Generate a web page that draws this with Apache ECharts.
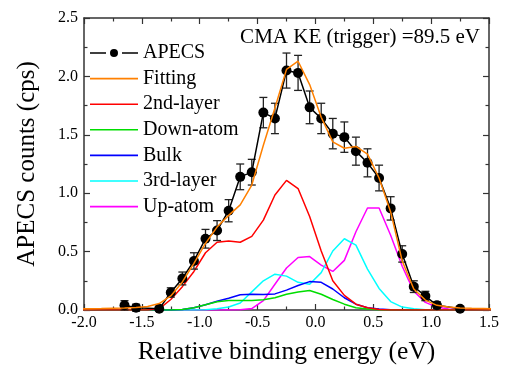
<!DOCTYPE html>
<html>
<head>
<meta charset="utf-8">
<script src="https://cdn.jsdelivr.net/npm/echarts@6/dist/echarts.min.js"></script>
<style>
  html, body { margin: 0; padding: 0; background: #fff; }
  #chart { width: 507px; height: 370px; }
</style>
</head>
<body>
<div id="chart"></div>
<script>
// measured points (relative binding energy, eV)
const E_DATA = [-1.65, -1.55, -1.35, -1.25, -1.15, -1.05, -0.95, -0.85, -0.75, -0.65, -0.55, -0.45, -0.35, -0.25,
  -0.15, -0.05, 0.05, 0.15, 0.25, 0.35, 0.45, 0.55, 0.65, 0.75, 0.85, 0.95, 1.05, 1.25];
const APECS = [0.04, 0.02, 0.01, 0.15, 0.27, 0.42, 0.61, 0.68, 0.85, 1.14, 1.18, 1.69, 1.64, 2.05,
  2.03, 1.735, 1.64, 1.51, 1.48, 1.36, 1.26, 1.13, 0.87, 0.48, 0.20, 0.12, 0.04, 0.01];
const APECS_ERR = [0.04, 0.03, 0.02, 0.04, 0.055, 0.07, 0.08, 0.085, 0.095, 0.11, 0.11, 0.13, 0.13, 0.15,
  0.15, 0.14, 0.13, 0.13, 0.13, 0.12, 0.12, 0.11, 0.10, 0.07, 0.05, 0.04, 0.03, 0.02];

// fit grid + components
const E_FIT = [-2.05, -1.95, -1.85, -1.75, -1.65, -1.55, -1.45, -1.35, -1.25, -1.15, -1.05, -0.95, -0.85,
  -0.75, -0.65, -0.55, -0.45, -0.35, -0.25, -0.15, -0.05, 0.05, 0.15, 0.25, 0.35, 0.45, 0.55, 0.65,
  0.75, 0.85, 0.95, 1.05, 1.15, 1.25, 1.35, 1.45, 1.55];
const FITTING = [0.01, 0.01, 0.012, 0.015, 0.018, 0.022, 0.03, 0.055, 0.12, 0.24, 0.40, 0.57, 0.71,
  0.81, 0.90, 1.07, 1.41, 1.73, 2.06, 2.13, 1.93, 1.65, 1.44, 1.385, 1.40, 1.335, 1.13, 0.84,
  0.42, 0.18, 0.085, 0.04, 0.025, 0.018, 0.014, 0.012, 0.01];
const LAYER2 = [0, 0, 0, 0, 0, 0, 0, 0.01, 0.09, 0.20, 0.33, 0.49, 0.58,
  0.59, 0.58, 0.63, 0.77, 0.985, 1.11, 1.04, 0.80, 0.505, 0.25, 0.125, 0.05, 0.02, 0.005, 0,
  0, 0, 0, 0, 0, 0, 0, 0, 0];
const DOWN_ATOM = [0, 0, 0, 0, 0, 0, 0, 0, 0, 0.005, 0.02, 0.045, 0.07,
  0.082, 0.082, 0.082, 0.087, 0.105, 0.135, 0.155, 0.167, 0.135, 0.09, 0.05, 0.02, 0.008, 0.003, 0,
  0, 0, 0, 0, 0, 0, 0, 0, 0];
const BULK = [0, 0, 0, 0, 0, 0, 0, 0, 0, 0.005, 0.02, 0.045, 0.075,
  0.10, 0.13, 0.135, 0.133, 0.138, 0.17, 0.21, 0.243, 0.237, 0.18, 0.105, 0.05, 0.02, 0.008, 0.003,
  0, 0, 0, 0, 0, 0, 0, 0, 0];
const LAYER3 = [0, 0, 0, 0, 0, 0, 0, 0, 0, 0, 0, 0.003, 0.01,
  0.025, 0.06, 0.155, 0.25, 0.307, 0.29, 0.237, 0.22, 0.32, 0.505, 0.61, 0.555, 0.35, 0.185, 0.072,
  0.025, 0.01, 0.003, 0, 0, 0, 0, 0, 0];
const UP_ATOM = [0, 0, 0, 0, 0, 0, 0, 0, 0, 0, 0, 0, 0,
  0, 0.003, 0.012, 0.08, 0.22, 0.36, 0.45, 0.457, 0.385, 0.33, 0.425, 0.67, 0.873, 0.873, 0.64,
  0.375, 0.16, 0.065, 0.025, 0.008, 0.003, 0, 0, 0];

const X_TICKS = { min: -2.0, max: 1.5, step: 0.5 };
const Y_TICKS = { min: 0.0, max: 2.5, step: 0.5 };

const FONT = '"Liberation Serif", "Times New Roman", serif';

// legend glyphs: plain line, and dash-dot-dash for the data points
const LINE_ICON = 'path://M0,0h48v1.6h-48z';
const DOT_ICON = 'path://M0,4.2h16v1.6h-16z M32,4.2h16v1.6h-16z M28,5a4,4 0 1,1 -8,0a4,4 0 1,1 8,0z';

const chart = echarts.init(document.getElementById('chart'));

const pair = (xs, ys) => xs.map((x, i) => [x, ys[i]]);

const fitLine = (name, color, values, z) => ({
  name,
  type: 'line',
  data: pair(E_FIT, values),
  symbol: 'none',
  lineStyle: { color, width: 1.5 },
  itemStyle: { color },
  clip: true,
  z,
  animation: false,
});

const axisCommon = {
  axisLine: { show: true, onZero: false, lineStyle: { color: '#333', width: 1.5 } },
  axisTick: { show: true, inside: true, length: 6, lineStyle: { color: '#333', width: 1.2 } },
  minorTick: { show: true, splitNumber: 2, length: 3.5, lineStyle: { color: '#333', width: 1.2 } },
  splitLine: { show: false },
};

chart.setOption({
  backgroundColor: '#fff',
  animation: false,
  textStyle: { fontFamily: FONT, color: '#000' },
  grid: { left: 84, right: 18, top: 18, bottom: 57 },
  legend: {
    left: 90,
    top: 43,
    padding: 0,
    orient: 'vertical',
    itemWidth: 48,
    itemHeight: 14,
    itemGap: 5.6,
    symbolKeepAspect: true,
    textStyle: { fontFamily: FONT, fontSize: 20, color: '#000' },
    data: [
      { name: 'APECS', icon: DOT_ICON },
      { name: 'Fitting', icon: LINE_ICON },
      { name: '2nd-layer', icon: LINE_ICON },
      { name: 'Down-atom', icon: LINE_ICON },
      { name: 'Bulk', icon: LINE_ICON },
      { name: '3rd-layer', icon: LINE_ICON },
      { name: 'Up-atom', icon: LINE_ICON },
    ],
  },
  xAxis: [
    {
      ...axisCommon,
      type: 'value',
      min: X_TICKS.min,
      max: X_TICKS.max,
      interval: X_TICKS.step,
      name: 'Relative binding energy (eV)',
      nameLocation: 'middle',
      nameGap: 29,
      nameTextStyle: { fontFamily: FONT, fontSize: 25.5, color: '#000' },
      axisLabel: { fontFamily: FONT, fontSize: 16, color: '#000', margin: 5, formatter: v => v.toFixed(1) },
    },
    {
      ...axisCommon,
      type: 'value',
      position: 'top',
      min: X_TICKS.min,
      max: X_TICKS.max,
      interval: X_TICKS.step,
      axisLabel: { show: false },
    },
  ],
  yAxis: [
    {
      ...axisCommon,
      type: 'value',
      min: Y_TICKS.min,
      max: Y_TICKS.max,
      interval: Y_TICKS.step,
      name: 'APECS counts (cps)',
      nameLocation: 'middle',
      nameGap: 44,
      nameTextStyle: { fontFamily: FONT, fontSize: 25, color: '#000' },
      axisLabel: { fontFamily: FONT, fontSize: 16, color: '#000', margin: 6, formatter: v => v.toFixed(1) },
    },
    {
      ...axisCommon,
      type: 'value',
      position: 'right',
      min: Y_TICKS.min,
      max: Y_TICKS.max,
      interval: Y_TICKS.step,
      axisLabel: { show: false },
    },
  ],
  graphic: [
    {
      type: 'text',
      right: 27,
      top: 27,
      style: { text: 'CMA KE (trigger) =89.5 eV', fontFamily: FONT, fontSize: 21, fill: '#000' },
    },
  ],
  series: [
    fitLine('Up-atom', '#ff00ff', UP_ATOM, 2),
    fitLine('3rd-layer', '#00ffff', LAYER3, 2),
    fitLine('Bulk', '#0000ff', BULK, 2),
    fitLine('Down-atom', '#00dd00', DOWN_ATOM, 2),
    fitLine('2nd-layer', '#ff0000', LAYER2, 2),
    {
      name: 'APECS error',
      type: 'custom',
      z: 3,
      data: E_DATA.map((x, i) => [x, APECS[i], APECS_ERR[i]]),
      renderItem: (params, api) => {
        const x = api.value(0), y = api.value(1), e = api.value(2);
        const top = api.coord([x, y + e]);
        const bot = api.coord([x, y - e]);
        const w = 4;
        const st = { stroke: '#222', lineWidth: 1.3 };
        return {
          type: 'group',
          children: [
            { type: 'line', shape: { x1: top[0], y1: top[1], x2: bot[0], y2: bot[1] }, style: st },
            { type: 'line', shape: { x1: top[0] - w, y1: top[1], x2: top[0] + w, y2: top[1] }, style: st },
            { type: 'line', shape: { x1: bot[0] - w, y1: bot[1], x2: bot[0] + w, y2: bot[1] }, style: st },
          ],
        };
      },
      animation: false,
    },
    {
      name: 'APECS',
      type: 'line',
      data: pair(E_DATA, APECS),
      symbol: 'circle',
      symbolSize: 10,
      lineStyle: { color: '#000', width: 1.5 },
      itemStyle: { color: '#000' },
      z: 4,
      animation: false,
    },
    fitLine('Fitting', '#ff8000', FITTING, 5),
  ],
});
</script>
</body>
</html>
